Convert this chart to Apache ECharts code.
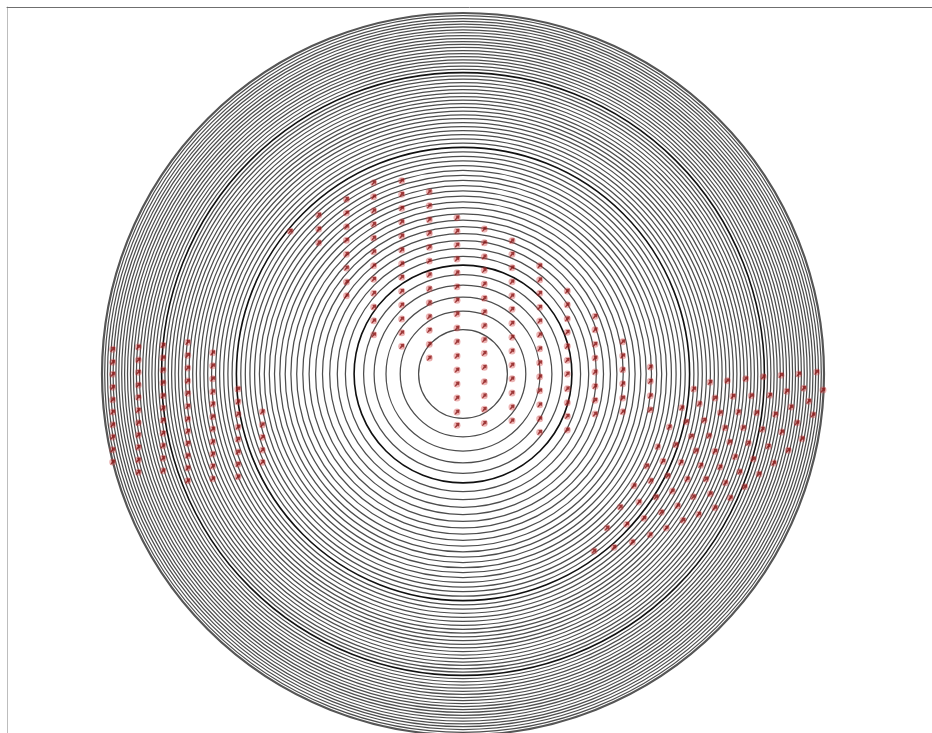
<!DOCTYPE html>
<html>
<head>
<meta charset="utf-8">
<style>
html, body { margin: 0; padding: 0; background: #fff; }
#main { width: 932px; height: 733px; }
</style>
<script src="https://cdn.jsdelivr.net/npm/echarts@6/dist/echarts.min.js"></script>
</head>
<body>
<div id="main"></div>
<script>
var centerX = 463;
var centerY = 374;

// ring radii (units = picture px)
var ringRadii = [
	44.4, 62.8, 77, 88.9, 99.4, 117.6, 125.7, 133.3, 140.5, 147.4, 153.9, 160.2, 166.3,
	172.1, 177.8, 183.2, 188.5, 193.7, 198.7, 203.6, 208.4, 213.1, 217.7, 222.2, 230.9,
	235.1, 239.3, 243.4, 247.4, 251.4, 255.3, 259.1, 262.9, 266.6, 270.3, 273.9, 277.5,
	281, 284.5, 288, 291.4, 294.8, 298.1, 304.6, 307.9, 311.1, 314.2, 317.3, 320.4, 323.5,
	326.6, 329.6, 332.5, 335.5, 338.4, 341.3, 344.2, 347.1, 349.9, 352.7, 355.5, 358.3
];
var heavyRadii = [108.9, 226.6, 301.4];
var outerRadii = [361];

// left block, one list per column
var leftColX = [112.7, 138.3, 163, 187.7, 212.7, 238, 262.3];
var leftColY = [
	[349.3, 362.3, 374.3, 387.3, 399.7, 412, 424.7, 437, 449.7, 462],
	[347, 360, 372.3, 385, 397.3, 410.3, 422.7, 435, 447.3, 460, 472.3],
	[345.3, 357.7, 370, 382.7, 395.7, 408, 420.3, 433.3, 445.7, 458.3, 470.7],
	[342.3, 355.3, 368, 381, 393.3, 406.3, 419, 431.3, 443.3, 455.7, 468, 480.7],
	[352.7, 365.7, 378.7, 391.7, 404, 416.7, 429, 441.7, 454, 466.3, 478.7],
	[389, 401.7, 414.3, 427, 439.3, 452, 464.3, 476.7],
	[411.7, 424.7, 437.3, 450, 462.3]
];

// centre block, one list per column
var midColX = [290.3, 318.7, 346.5, 373.7, 401.7, 429.3, 457, 484.3, 512, 539.7, 567.3, 595, 622.7, 650.3];
var midColY = [
	[231.3],
	[215, 229, 242.7],
	[199.3, 213, 226.7, 240.3, 254.3, 268, 282, 295.7],
	[182.7, 196.7, 210.7, 224.3, 238, 251.7, 265.7, 279.3, 293.3, 307, 320.7, 334.7],
	[180.7, 194.3, 208.3, 222, 236, 250, 263.7, 277.3, 291.3, 305, 319, 332.7, 346.3],
	[191.7, 205.7, 219.7, 233.3, 247.3, 261, 274.7, 288.7, 302.7, 316.7, 330.3, 344.3, 358],
	[217.7, 231.3, 245, 259, 272.7, 286.7, 300.3, 314, 328, 341.7, 356, 370, 384, 398, 412, 425.3],
	[229, 242.7, 256.7, 270.3, 284, 298.3, 312, 325.7, 339.7, 353.3, 367.3, 381.7, 395.7, 409.3, 423.3],
	[240.7, 254.3, 267.7, 281.7, 295.7, 309.3, 323.3, 337.3, 351, 365, 378.7, 393, 407, 420.7],
	[265.7, 279.7, 293.3, 307.3, 321, 334.7, 348.7, 362.7, 376.7, 390.7, 404.7, 418.7, 432.3],
	[291, 304.7, 318.7, 332.3, 346.3, 360.3, 374, 388.7, 402.7, 416.3, 430],
	[316.3, 329.7, 344.3, 358, 372, 386.3, 400.3, 414],
	[341.7, 355.7, 369.7, 383.7, 398, 411.7],
	[367, 381.3, 395.7, 409.7]
];

// right block, slanted rows
var rightPoints = [
	[693.7, 389], [710, 382.3], [727.3, 380.7], [745.7, 378.7], [763.3, 376.7], [781, 375.3], [798.7, 374], [816.7, 372],
	[681.7, 407.7], [699.3, 403.7], [715, 398], [733, 396.3], [751.3, 395.7], [769.7, 395.3], [786.7, 391.3], [803.7, 388.3], [823, 390],
	[669.3, 427], [686.3, 421.7], [704, 420.3], [720.3, 412.7], [738.3, 412], [756.7, 412.7], [775.3, 414.3], [791, 407], [808.7, 401.3],
	[657.7, 446.7], [675.7, 444.7], [691.3, 436.3], [709, 435.7], [725, 427.7], [743.3, 427.7], [762.3, 429.3], [781.7, 432], [797, 422.7], [813, 414.7],
	[646.7, 466], [663, 461.3], [681, 462.3], [696, 450.7], [715, 451.3], [729.7, 442], [748.3, 443], [768.3, 446.3], [788.3, 450.3], [802, 438.7],
	[634, 485.7], [650.7, 480.7], [667.7, 475.7], [687.3, 479], [700.7, 465.3], [720, 467], [735, 456.7], [753.3, 459], [773.7, 463],
	[620.3, 507], [639, 502], [656, 497], [672.3, 491], [693.3, 496.7], [706, 479], [725.3, 482.7], [739.7, 471.7], [759, 474],
	[607, 528], [626.7, 524.3], [644, 518.3], [661.3, 512.3], [677.7, 505.7], [698.7, 514.3], [710.3, 493.7], [730.3, 497.7], [744.7, 486.7],
	[594, 551], [614, 547.3], [632.3, 542], [650, 534.7], [666.3, 528], [683, 520.3], [715, 507.7]
];

var arrowPath = 'path://M0,10 L4,3 L2,1 L10,0 L9,8 L7,6 L2,10 Z';

function columnsToPoints(xs, ys){
	var out = [];
	xs.forEach(function(x, i){
		ys[i].forEach(function(y){
			out.push([x, y]);
		});
	});
	return out;
}

var allPoints = columnsToPoints(leftColX, leftColY)
	.concat(columnsToPoints(midColX, midColY))
	.concat(rightPoints);

function ringSeries(radii, color, width){
	return {
		type: 'custom',
		silent: true,
		clip: true,
		coordinateSystem: 'cartesian2d',
		data: radii.map(function(r){ return [centerX, centerY, r]; }),
		encode: { x: 0, y: 1 },
		renderItem: function(params, api){
			var c = api.coord([api.value(0), api.value(1)]);
			var s = api.size([api.value(2), api.value(2)]);
			return {
				type: 'circle',
				shape: { cx: c[0], cy: c[1], r: s[0] },
				style: { fill: 'none', stroke: color, lineWidth: width }
			};
		}
	};
}

var chart = echarts.init(document.getElementById('main'));
chart.setOption({
	animation: false,
	backgroundColor: '#fff',
	grid: { left: 7, top: 7, right: 0, bottom: 0 },
	xAxis: {
		type: 'value',
		position: 'top',
		min: 7,
		max: 932,
		axisLine: { show: true, onZero: false, lineStyle: { color: '#6f6f6f', width: 1 } },
		axisTick: { show: false },
		axisLabel: { show: false },
		splitLine: { show: false }
	},
	yAxis: {
		type: 'value',
		inverse: true,
		min: 7,
		max: 733,
		axisLine: { show: true, onZero: false, lineStyle: { color: '#bdbdbd', width: 1 } },
		axisTick: { show: false },
		axisLabel: { show: false },
		splitLine: { show: false }
	},
	series: [
		ringSeries(ringRadii, '#4d4d4d', 1.25),
		ringSeries(heavyRadii, '#101010', 1.6),
		ringSeries(outerRadii, '#555555', 2.2),
		{
			type: 'scatter',
			silent: true,
			symbol: 'circle',
			symbolSize: 7,
			itemStyle: { color: 'rgba(210,70,70,0.5)' },
			data: allPoints
		},
		{
			type: 'scatter',
			silent: true,
			symbol: arrowPath,
			symbolSize: 5,
			itemStyle: { color: '#8a1818' },
			data: allPoints
		}
	]
});
</script>
</body>
</html>
